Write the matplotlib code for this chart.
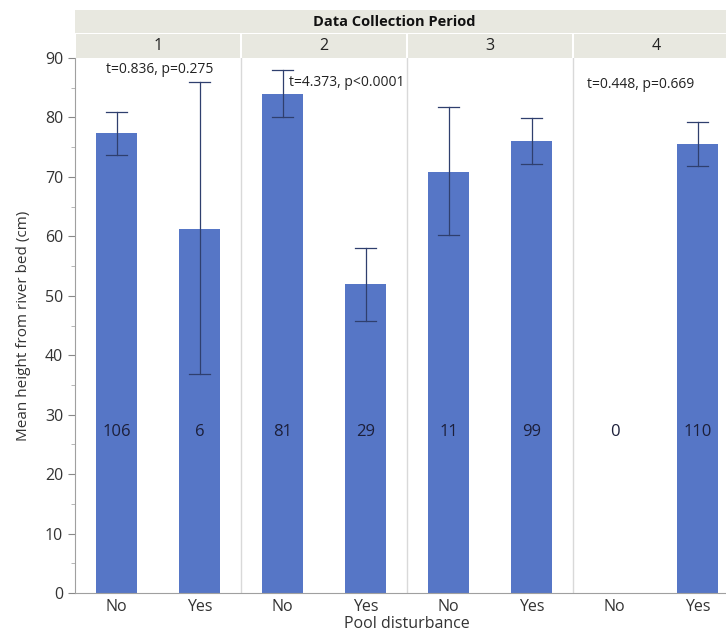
import matplotlib
matplotlib.use("Agg")
import matplotlib.pyplot as plt
from matplotlib.patches import Rectangle

plt.rcParams['font.family'] = ['Open Sans', 'DejaVu Sans']

periods = ['1', '2', '3', '4']
groups = ['No', 'Yes']
means = [77.3, 61.3, 84.0, 51.9, 70.9, 76.0, 0.0, 75.5]
err_low = [73.6, 36.8, 80.1, 45.8, 60.2, 72.2, None, 71.8]
err_high = [80.9, 86.0, 88.0, 58.0, 81.8, 79.9, None, 79.3]
counts = [106, 6, 81, 29, 11, 99, 0, 110]
tests = ['t=0.836, p=0.275', 't=4.373, p<0.0001', None, 't=0.448, p=0.669']

bar_color = '#5676c6'
err_color = '#2f3f6e'
grid_color = '#d9d9d9'
strip_color = '#e8e8e0'

W, H = 726, 635
fig = plt.figure(figsize=(W / 100, H / 100), dpi=100)

ax_left, ax_right = 75, 739
ax_top, ax_bot = 58, 593
ax = fig.add_axes([ax_left / W, 1 - ax_bot / H, (ax_right - ax_left) / W, (ax_bot - ax_top) / H])

xs = [i + 0.5 for i in range(len(means))]
ax.bar(xs, means, width=0.5, color=bar_color, zorder=2)
for x, lo, hi in zip(xs, err_low, err_high):
    if lo is None:
        continue
    ax.plot([x, x], [lo, hi], color=err_color, lw=0.9, zorder=3)
    for y in (lo, hi):
        ax.plot([x - 0.13, x + 0.13], [y, y], color=err_color, lw=0.9, zorder=3)
for x, n in zip(xs, counts):
    ax.text(x, 27, str(n), ha='center', va='center', fontsize=12, color='#1c1f3a', zorder=4)

for k in range(1, len(periods)):
    ax.axvline(2 * k, color=grid_color, lw=1, zorder=1)

# test statistics per period
test_pos = [(1.02, 88.0, 'center'), (2.58, 85.9, 'left'), None, (6.17, 85.6, 'left')]
for label, pos in zip(tests, test_pos):
    if label is None:
        continue
    x, y, ha = pos
    ax.text(x, y, label, ha=ha, va='center', fontsize=10, color='#222222', zorder=4)

ax.set_xlim(0, 2 * len(periods))
ax.set_ylim(0, 90)
ax.set_yticks(range(0, 91, 10))
ax.set_yticks(range(5, 90, 10), minor=True)
ax.set_xticks(xs)
ax.set_xticklabels(groups * len(periods))
ax.tick_params(axis='y', which='major', length=5, color='#888888', labelsize=11.5, labelcolor='#333333')
ax.tick_params(axis='y', which='minor', length=3, color='#aaaaaa')
ax.tick_params(axis='x', length=0, labelsize=11.5, labelcolor='#333333', pad=4)
for side in ('top', 'right'):
    ax.spines[side].set_visible(False)
for side in ('left', 'bottom'):
    ax.spines[side].set_color('#a0a0a0')
ax.set_ylabel('Mean height from river bed (cm)', fontsize=11, color='#333333', labelpad=10)
ax.set_xlabel('Pool disturbance', fontsize=11.5, color='#333333', labelpad=1)

# header strip above the panels
hdr_top = 10
hdr = fig.add_axes([ax_left / W, 1 - ax_top / H, (ax_right - ax_left) / W, (ax_top - hdr_top) / H])
hdr.set_xlim(0, 2 * len(periods))
hdr.set_ylim(0, 48)
hdr.axis('off')
hdr.add_patch(Rectangle((0, 25), 2 * len(periods), 23, facecolor=strip_color, edgecolor='none'))
hdr.text(3.85, 36.5, 'Data Collection Period', ha='center', va='center',
         fontsize=10.5, fontweight='bold', color='#111111')
for k, p in enumerate(periods):
    hdr.add_patch(Rectangle((2 * k + 0.01, 0), 1.98, 24, facecolor=strip_color, edgecolor='none'))
    hdr.text(2 * k + 1, 12, p, ha='center', va='center', fontsize=11.5, color='#222222')

fig.savefig('out.png', dpi=100)
